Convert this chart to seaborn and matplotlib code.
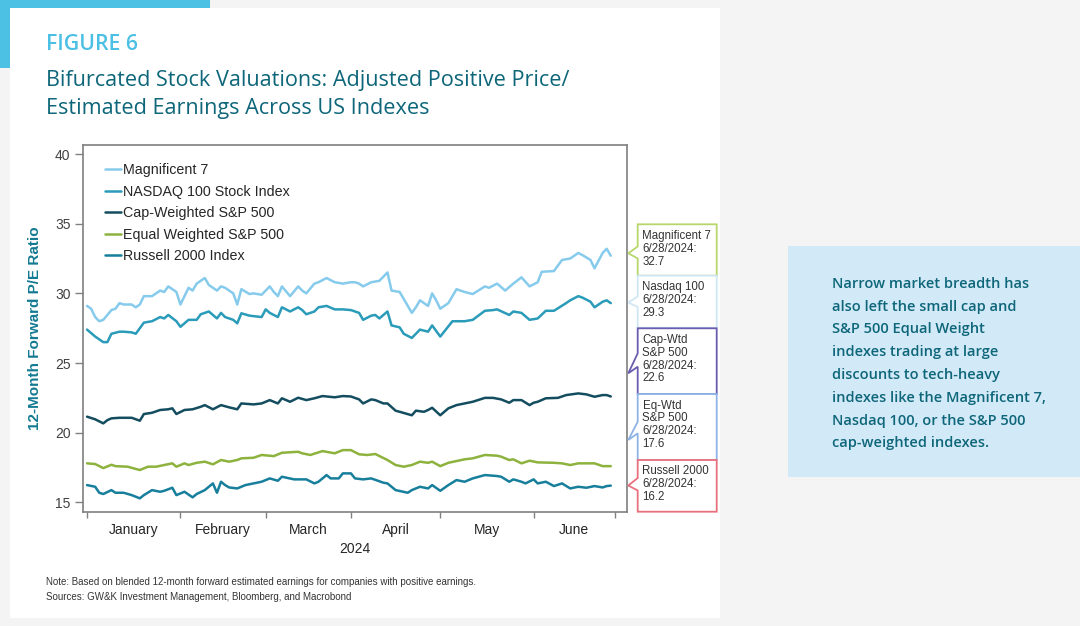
import numpy as np
import pandas as pd
import matplotlib
matplotlib.use("Agg")
import matplotlib.pyplot as plt
import seaborn as sns
from matplotlib.patches import Polygon, Rectangle

# ---------------- data (business-day index from 2024-01-01, P/E values) -------------
series_names = ["Magnificent 7", "NASDAQ 100 Stock Index", "Cap-Weighted S&P 500",
                "Equal Weighted S&P 500", "Russell 2000 Index"]

mag7_day = [0, 1, 2, 3, 4, 6, 7, 8, 9, 11, 12, 13, 14, 16, 18, 19, 20, 22, 23, 25, 26, 27, 29, 30,
            32, 33, 34, 36, 37, 38, 40, 41, 43, 45, 46, 47, 48, 50, 52, 53, 54, 56, 57, 59, 61, 63,
            65, 66, 67, 68, 70, 72, 74, 75, 77, 78, 80, 81, 82, 84, 85, 86, 87, 89, 91, 93, 95, 98,
            99, 101, 103, 105, 107, 109, 111, 112, 115, 117, 119, 121, 122, 124, 125, 127, 128, 129]
mag7_pe = [29.1, 28.9, 28.3, 28.0, 28.1, 28.8, 28.9, 29.3, 29.2, 29.2, 29.0, 29.2, 29.8, 29.8, 30.2,
           30.1, 30.5, 30.1, 29.2, 30.4, 30.2, 30.7, 31.1, 30.6, 30.2, 30.5, 30.4, 30.0, 29.2, 30.3,
           29.95, 30.0, 29.9, 30.5, 30.1, 29.8, 30.5, 29.8, 30.5, 30.2, 30.0, 30.7, 30.8, 31.1, 30.8,
           30.7, 30.8, 30.8, 30.7, 30.5, 30.8, 30.9, 31.5, 30.2, 30.1, 29.6, 28.6, 29.0, 29.5, 29.1,
           30.0, 29.5, 28.9, 29.3, 30.3, 30.1, 29.95, 30.5, 30.4, 30.7, 30.2, 30.7, 31.15, 30.5, 30.8,
           31.55, 31.6, 32.4, 32.5, 32.9, 32.75, 32.4, 31.8, 32.9, 33.2, 32.7]

ndx_day = [0, 2, 4, 5, 6, 8, 9, 11, 12, 14, 16, 18, 19, 20, 22, 23, 25, 27, 28, 30, 32, 33, 34, 36,
           37, 38, 40, 43, 44, 45, 47, 48, 50, 52, 53, 54, 56, 57, 59, 61, 63, 65, 67, 68, 70, 71,
           72, 74, 75, 77, 78, 80, 81, 82, 84, 85, 87, 90, 93, 95, 98, 100, 101, 104, 105, 107, 109,
           111, 113, 115, 118, 119, 121, 122, 124, 125, 127, 128, 129]
ndx_pe = [27.4, 26.9, 26.5, 26.5, 27.1, 27.25, 27.25, 27.2, 27.1, 27.9, 28.0, 28.3, 28.2, 28.45,
          28.0, 27.6, 28.1, 28.1, 28.5, 28.7, 28.2, 28.6, 28.3, 28.1, 27.85, 28.57, 28.4, 28.3,
          28.85, 28.6, 28.3, 29.0, 28.7, 29.0, 28.8, 28.5, 28.7, 29.0, 29.1, 28.85, 28.85, 28.8,
          28.6, 28.1, 28.4, 28.45, 28.2, 28.7, 27.7, 27.56, 27.1, 26.8, 27.1, 27.4, 27.25, 27.7,
          26.9, 28.0, 28.0, 28.1, 28.75, 28.8, 28.85, 28.45, 28.7, 28.6, 28.1, 28.2, 28.75, 28.75,
          29.3, 29.5, 29.8, 29.7, 29.4, 29.0, 29.4, 29.5, 29.3]

spx_day = [0, 2, 4, 5, 6, 8, 11, 13, 14, 16, 18, 20, 21, 22, 24, 26, 28, 29, 31, 33, 35, 37, 38,
           41, 43, 45, 47, 48, 50, 52, 54, 56, 58, 61, 63, 65, 67, 68, 70, 71, 73, 74, 76, 77, 80,
           81, 83, 84, 85, 87, 89, 91, 93, 95, 98, 100, 102, 104, 105, 107, 109, 110, 111, 113,
           116, 118, 121, 123, 125, 127, 128, 129]
spx_pe = [21.15, 20.96, 20.67, 20.9, 21.03, 21.07, 21.07, 20.86, 21.34, 21.43, 21.63, 21.68, 21.75,
          21.34, 21.63, 21.68, 21.86, 21.98, 21.68, 21.98, 21.82, 21.68, 22.1, 22.03, 22.1, 22.34,
          22.1, 22.47, 22.22, 22.51, 22.34, 22.47, 22.63, 22.54, 22.63, 22.6, 22.39, 22.1, 22.39,
          22.34, 22.1, 22.1, 21.58, 21.5, 21.25, 21.58, 21.5, 21.63, 21.79, 21.25, 21.75, 21.98,
          22.1, 22.22, 22.5, 22.5, 22.39, 22.15, 22.34, 22.34, 21.98, 22.15, 22.22, 22.47, 22.5,
          22.7, 22.82, 22.75, 22.58, 22.7, 22.7, 22.6]

eqw_day = [0, 2, 4, 6, 7, 10, 13, 15, 17, 19, 21, 22, 24, 25, 27, 29, 31, 33, 35, 37, 38, 41, 43,
           46, 48, 52, 53, 55, 58, 61, 63, 65, 67, 69, 71, 74, 76, 78, 80, 82, 84, 85, 87, 89, 93,
           95, 98, 101, 102, 104, 105, 107, 109, 111, 115, 117, 119, 121, 125, 127, 129]
eqw_pe = [17.8, 17.75, 17.46, 17.7, 17.6, 17.56, 17.32, 17.56, 17.56, 17.68, 17.8, 17.56, 17.8,
          17.68, 17.84, 17.92, 17.73, 18.04, 17.92, 18.04, 18.16, 18.2, 18.4, 18.32, 18.56, 18.63,
          18.52, 18.4, 18.68, 18.52, 18.75, 18.75, 18.45, 18.4, 18.47, 18.04, 17.68, 17.56, 17.68,
          17.92, 17.84, 17.92, 17.6, 17.84, 18.09, 18.16, 18.4, 18.35, 18.28, 18.04, 18.09, 17.8,
          17.99, 17.87, 17.84, 17.8, 17.68, 17.8, 17.8, 17.6, 17.6]

rty_day = [0, 2, 3, 4, 6, 7, 9, 11, 13, 14, 16, 18, 19, 21, 22, 24, 26, 27, 29, 31, 32, 33, 34, 35,
           37, 39, 41, 43, 45, 47, 48, 51, 54, 56, 57, 59, 60, 62, 63, 65, 66, 68, 70, 73, 74, 76,
           79, 80, 82, 84, 85, 87, 89, 91, 93, 95, 98, 101, 102, 104, 105, 107, 108, 110, 111, 113,
           115, 117, 119, 121, 123, 125, 127, 128, 129]
rty_pe = [16.24, 16.12, 15.69, 15.6, 15.88, 15.69, 15.69, 15.52, 15.29, 15.52, 15.88, 15.76, 15.83,
          16.05, 15.52, 15.76, 15.36, 15.6, 15.88, 16.36, 15.69, 16.48, 16.24, 16.07, 16.0, 16.24,
          16.36, 16.48, 16.72, 16.55, 16.84, 16.65, 16.65, 16.36, 16.48, 16.96, 16.72, 16.72,
          17.08, 17.08, 16.72, 16.65, 16.72, 16.41, 16.36, 15.88, 15.69, 15.88, 16.12, 16.0,
          16.24, 15.83, 16.24, 16.6, 16.48, 16.72, 16.96, 16.89, 16.84, 16.48, 16.65, 16.48,
          16.36, 16.65, 16.36, 16.48, 16.17, 16.36, 16.0, 16.12, 16.05, 16.17, 16.07, 16.17, 16.2]

month_names = ["January", "February", "March", "April", "May", "June"]
month_starts = ["2024-01-01", "2024-02-01", "2024-03-01", "2024-04-01", "2024-05-01",
                "2024-06-01", "2024-07-01"]
y_ticks = [15, 20, 25, 30, 35, 40]

callout_names = ["Magnificent 7", "Nasdaq 100", "Cap-Wtd\nS&P 500", "Eq-Wtd\nS&P 500",
                 "Russell 2000"]
callout_date = "6/28/2024:"

colors = {"Magnificent 7": "#86cbec", "NASDAQ 100 Stock Index": "#2a9bb9",
          "Cap-Weighted S&P 500": "#134d5f", "Equal Weighted S&P 500": "#8db23d",
          "Russell 2000 Index": "#177f9c"}

# ---------------- assemble long-form table ---------------------------------------------
days = [mag7_day, ndx_day, spx_day, eqw_day, rty_day]
vals = [mag7_pe, ndx_pe, spx_pe, eqw_pe, rty_pe]
frames = [pd.DataFrame({"day": d, "pe": v, "series": n}) for n, d, v in zip(series_names, days, vals)]
df = pd.concat(frames, ignore_index=True)

month_idx = [int(np.busday_count("2024-01-01", m)) for m in month_starts]
month_mid = [(a + b) / 2 for a, b in zip(month_idx[:-1], month_idx[1:])]

# ---------------- figure -----------------------------------------------------------------
sns.set_theme(style="white")
plt.rcParams['font.family'] = ['Liberation Sans', 'DejaVu Sans']

W, H = 1080, 626
fig = plt.figure(figsize=(W / 100, H / 100), dpi=100)
fig.patch.set_facecolor('#f4f4f4')


def fx(x):
    return x / W


def fy(y):
    return 1 - y / H


fig.add_artist(Rectangle((0, fy(68)), fx(210), 68 / H, transform=fig.transFigure,
                         facecolor='#4cc1e3', edgecolor='none', zorder=-3))
fig.add_artist(Rectangle((fx(10), fy(618)), fx(710), 610 / H, transform=fig.transFigure,
                         facecolor='white', edgecolor='none', zorder=-2))
fig.add_artist(Rectangle((fx(788), fy(476.5)), fx(292), 230.5 / H, transform=fig.transFigure,
                         facecolor='#d2e9f7', edgecolor='none', zorder=-2))

ax = fig.add_axes([fx(83), fy(511.7), 544 / W, 367 / H])
ax.set_facecolor('white')
sns.lineplot(data=df, x="day", y="pe", hue="series", hue_order=series_names,
             palette=colors, linewidth=1.8, ax=ax, sort=True)

ax.set_xlim(-1, 133)
ax.set_ylim(14.33, 40.67)
ax.set_yticks(y_ticks)
ax.set_yticklabels([str(t) for t in y_ticks])
ax.set_xticks(month_idx)
ax.set_xticklabels([""] * len(month_idx))
ax.set_xticks(month_mid, minor=True)
ax.set_xticklabels(month_names, minor=True)
ax.tick_params(axis='x', which='major', bottom=True, length=4, width=1, color='#808080')
ax.tick_params(axis='x', which='minor', bottom=True, length=0, pad=8,
               labelsize=10, labelcolor='#262626')
ax.tick_params(axis='y', left=True, length=6, width=1, color='#808080', pad=3,
               labelsize=10, labelcolor='#404040')
for s in ax.spines.values():
    s.set_color('#7f7f7f')
    s.set_linewidth(1.2)
ax.set_xlabel("2024", fontsize=10, color='#262626', labelpad=4)
ax.set_ylabel("12-Month Forward P/E Ratio", fontsize=11, fontweight='bold',
              color='#137a92', labelpad=9)

h, l = ax.get_legend_handles_labels()
leg = ax.legend(h, l, loc='upper left', bbox_to_anchor=(0.03, 0.965), frameon=False,
                fontsize=10.3, handlelength=1.15, handletextpad=0.12, labelspacing=0.52,
                borderaxespad=0)
for t in leg.get_texts():
    t.set_color('#262626')

# ---------------- call-out boxes -----------------------------------------------------------
L, R, TIPX = 637.7, 716.7, 628.3
boxes = [  # top, bottom, base1, tip, base2, edge colour
    (224.3, 275.7, 246.5, 253.3, 258.5, '#b7d76b'),
    (275.7, 327.7, 296.5, 302.5, 307.0, '#cfe7f4'),
    (328.3, 394.0, 353.3, 373.3, 366.7, '#6b5caf'),
    (394.0, 460.0, 421.7, 440.0, 433.3, '#8fb2e6'),
    (460.0, 511.7, 478.0, 485.5, 490.5, '#e8707d'),
]
last_vals = [v[-1] for v in vals]
for (top, bot, b1, tip, b2, ec), name, lv in zip(boxes, callout_names, last_vals):
    pts = [(L, top), (R, top), (R, bot), (L, bot), (L, b2), (TIPX, tip), (L, b1)]
    fig.add_artist(Polygon([(fx(x), fy(y)) for x, y in pts], closed=True,
                           transform=fig.transFigure, facecolor='white', edgecolor=ec,
                           linewidth=1.3))
    fig.text(fx(642.5), fy(top + 5.5), f"{name}\n{callout_date}\n{lv:.1f}", fontsize=8.3,
             color='#333333', va='top', ha='left', linespacing=1.1)

# ---------------- header, side text, footnotes -----------------------------------------------
hdr = ['Open Sans', 'DejaVu Sans']
fig.text(fx(46), fy(49.5), "FIGURE 6", family=hdr, fontsize=15.3, color='#4cc0e4',
         va='baseline', ha='left', fontweight='semibold')
fig.text(fx(46), fy(86), "Bifurcated Stock Valuations: Adjusted Positive Price/",
         family=hdr, fontsize=15.6, color='#0d6679', va='baseline', ha='left',
         fontweight='medium')
fig.text(fx(46), fy(114), "Estimated Earnings Across US Indexes",
         family=hdr, fontsize=15.6, color='#0d6679', va='baseline', ha='left',
         fontweight='medium')

side_lines = ["Narrow market breadth has", "also left the small cap and",
              "S&P 500 Equal Weight", "indexes trading at large",
              "discounts to tech-heavy", "indexes like the Magnificent 7,",
              "Nasdaq 100, or the S&P 500", "cap-weighted indexes."]
for i, line in enumerate(side_lines):
    fig.text(fx(832), fy(288 + i * 22.75), line, family=hdr, fontsize=10.5,
             color='#0d6679', va='baseline', ha='left', fontweight='semibold')

fig.text(fx(46), fy(585), "Note: Based on blended 12-month forward estimated earnings for "
         "companies with positive earnings.", fontsize=7, color='#333333',
         va='baseline', ha='left')
fig.text(fx(46), fy(599.5), "Sources: GW&K Investment Management, Bloomberg, and Macrobond",
         fontsize=7, color='#333333', va='baseline', ha='left')

fig.savefig("out.png", dpi=100, facecolor=fig.get_facecolor())
